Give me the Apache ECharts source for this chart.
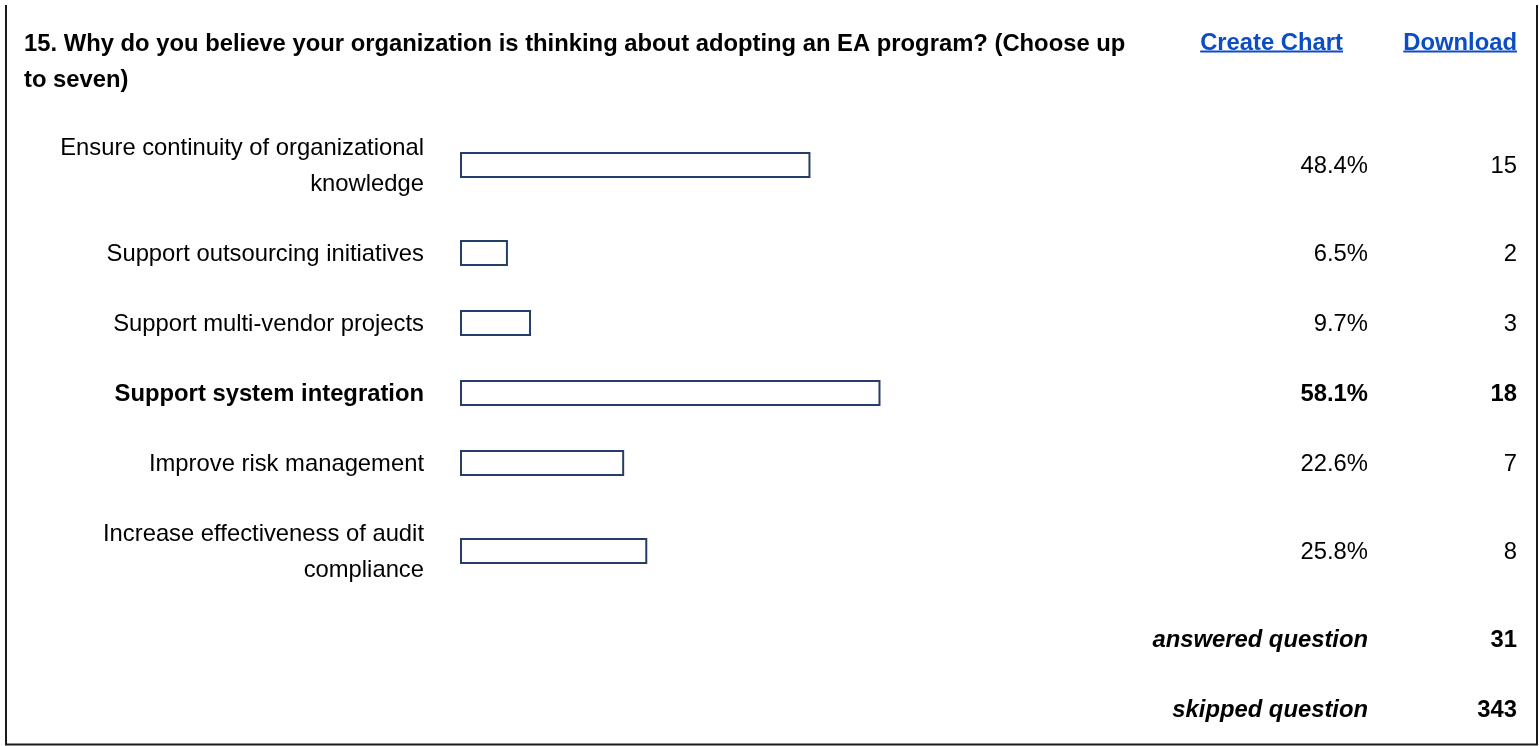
<!DOCTYPE html>
<html>
<head>
<meta charset="utf-8">
<script src="https://cdn.jsdelivr.net/npm/echarts@6/dist/echarts.min.js"></script>
<style>
html,body{margin:0;padding:0;background:#fff;}
#chart{width:1539px;height:746px;}
</style>
</head>
<body>
<div id="chart"></div>
<script>
// ---- data ----
const titleText = "15. Why do you believe your organization is thinking about adopting an EA program? (Choose up\nto seven)";
const linkLabels = ["Create Chart", "Download"];
const categories = [
  "Ensure continuity of organizational\nknowledge",
  "Support outsourcing initiatives",
  "Support multi-vendor projects",
  "Support system integration",
  "Improve risk management",
  "Increase effectiveness of audit\ncompliance"
];
const percents = [48.4, 6.5, 9.7, 58.1, 22.6, 25.8];
const counts = [15, 2, 3, 18, 7, 8];
const summaryLabels = ["answered question", "skipped question"];
const summaryValues = [31, 343];

// ---- layout helpers (derived from label line counts) ----
const FONT = "'Liberation Sans', Arial, Helvetica, sans-serif";
const FS = 23.8;
const LINE_H = 36;
const ROW_PAD = 34;
const TXT_DY = 1;
const rowHeights = categories.map(c => ROW_PAD + LINE_H * c.split("\n").length);
const rowCenters = [];
let acc = 0;
rowHeights.forEach(h => { rowCenters.push(acc + h / 2); acc += h; });
const totalRows = acc;
const maxPct = Math.max(...percents);

const GRID_LEFT = 460, GRID_TOP = 112, AXIS_PX = 722;
const LABEL_RIGHT = 424, PCT_RIGHT = 1368, CNT_RIGHT = 1517;

const chart = echarts.init(document.getElementById('chart'), null, {renderer: 'canvas'});

const rowData = percents.map((p, i) => [p, rowCenters[i], i]);

const option = {
  animation: false,
  grid: {left: GRID_LEFT, top: GRID_TOP, width: AXIS_PX, height: totalRows},
  xAxis: {type: 'value', min: 0, max: 100, show: false},
  yAxis: {type: 'value', min: 0, max: totalRows, inverse: true, show: false},
  series: [{
    type: 'custom',
    clip: false,
    data: rowData,
    renderItem: function (params, api) {
      const p = api.value(0), yv = api.value(1), idx = api.value(2);
      const start = api.coord([0, yv]);
      const end = api.coord([p, yv]);
      const bold = percents[idx] === maxPct;
      const fw = bold ? 'bold' : 'normal';
      const ty = start[1] + TXT_DY;
      return {
        type: 'group',
        children: [
          {
            type: 'rect',
            shape: {x: start[0] + 1, y: start[1] - 12, width: end[0] - start[0] - 1, height: 24},
            style: {fill: '#ffffff', stroke: '#243f67', lineWidth: 2}
          },
          {
            type: 'text',
            style: {
              text: categories[idx], x: LABEL_RIGHT, y: ty,
              align: 'right', verticalAlign: 'middle', lineHeight: LINE_H,
              font: fw + ' ' + FS + 'px ' + FONT, fill: '#000'
            }
          },
          {
            type: 'text',
            style: {
              text: percents[idx].toFixed(1) + '%', x: PCT_RIGHT, y: ty,
              align: 'right', verticalAlign: 'middle',
              font: fw + ' ' + FS + 'px ' + FONT, fill: '#000'
            }
          },
          {
            type: 'text',
            style: {
              text: String(counts[idx]), x: CNT_RIGHT, y: ty,
              align: 'right', verticalAlign: 'middle',
              font: fw + ' ' + FS + 'px ' + FONT, fill: '#000'
            }
          }
        ]
      };
    }
  }],
  graphic: []
};

// static page elements
const g = [];
g.push({type: 'text', left: 24, top: 26, style: {text: titleText, font: 'bold ' + FS + 'px ' + FONT, lineHeight: LINE_H, fill: '#000'}});
// links
const linkRights = [1343, 1517];
linkLabels.forEach((t, i) => {
  g.push({type: 'text', x: linkRights[i], y: 43, style: {text: t, align: 'right', verticalAlign: 'middle', font: 'bold ' + FS + 'px ' + FONT, fill: '#0b4dc4'}});
});
// summary rows
const sumTop = GRID_TOP + totalRows;
summaryLabels.forEach((t, i) => {
  const y = sumTop + 35 + i * 70 + TXT_DY;
  g.push({type: 'text', x: PCT_RIGHT, y: y, style: {text: t, align: 'right', verticalAlign: 'middle', font: 'italic bold ' + FS + 'px ' + FONT, fill: '#000'}});
  g.push({type: 'text', x: CNT_RIGHT, y: y, style: {text: String(summaryValues[i]), align: 'right', verticalAlign: 'middle', font: 'bold ' + FS + 'px ' + FONT, fill: '#000'}});
});
// borders
g.push({type: 'line', shape: {x1: 6, y1: 5, x2: 6, y2: 745}, style: {stroke: '#1a1a1a', lineWidth: 2}});
g.push({type: 'line', shape: {x1: 1537, y1: 5, x2: 1537, y2: 745}, style: {stroke: '#1a1a1a', lineWidth: 2}});
g.push({type: 'line', shape: {x1: 5, y1: 744.5, x2: 1538, y2: 744.5}, style: {stroke: '#1a1a1a', lineWidth: 2}});
option.graphic = g;

chart.setOption(option);

// underlines for links, measured from the rendered text widths
const widths = linkLabels.map(t => echarts.format.getTextRect ? echarts.format.getTextRect(t, 'bold ' + FS + 'px ' + FONT).width : 0);
const ul = linkLabels.map((t, i) => ({
  type: 'line',
  shape: {x1: linkRights[i] - widths[i], y1: 51.5, x2: linkRights[i], y2: 51.5},
  style: {stroke: '#0b4dc4', lineWidth: 2}
}));
chart.setOption({graphic: g.concat(ul)});
</script>
</body>
</html>
